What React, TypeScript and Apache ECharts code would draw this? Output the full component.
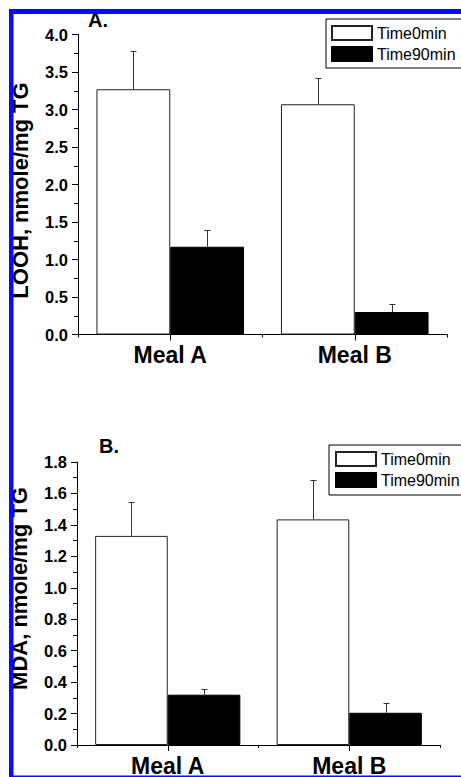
import React, { useEffect, useRef } from 'react';
import * as echarts from 'echarts';

const categories = ['Meal A', 'Meal B'];
const legendNames = ['Time0min', 'Time90min'];

// Panel A: LOOH, nmole/mg TG
const loohTime0 = [3.27, 3.07];
const loohTime0Err = [0.51, 0.35];
const loohTime90 = [1.17, 0.30];
const loohTime90Err = [0.22, 0.11];

// Panel B: MDA, nmole/mg TG
const mdaTime0 = [1.33, 1.435];
const mdaTime0Err = [0.215, 0.25];
const mdaTime90 = [0.32, 0.205];
const mdaTime90Err = [0.035, 0.065];

const loohAxisRange = [0, 4, 0.5]; // min, max, interval
const mdaAxisRange = [0, 1.8, 0.2];

const panelTitles = ['A.', 'B.'];
const yTitles = ['LOOH, nmole/mg TG', 'MDA, nmole/mg TG'];

const FONT = '"Liberation Sans", Arial, Helvetica, sans-serif';

const errRender = (offset: number) => (params: any, api: any) => {
  const x = api.value(0);
  const v = api.value(1);
  const e = api.value(2);
  const base = api.coord([x, v]);
  const top = api.coord([x, v + e]);
  const band = api.size([1, 0])[0];
  const cx = Math.round(base[0] + offset * band) + 0.5;
  const ty = Math.round(top[1]) + 0.5;
  const style = { stroke: '#333', lineWidth: 1 };
  return {
    type: 'group',
    children: [
      { type: 'line', shape: { x1: cx, y1: base[1], x2: cx, y2: ty }, style },
      { type: 'line', shape: { x1: cx - 3, y1: ty, x2: cx + 3, y2: ty }, style },
    ],
  };
};

const errData = (vals: number[], errs: number[]) => vals.map((v, i) => [i, v, errs[i]]);

export default function App() {
  const ref = useRef<HTMLDivElement>(null);
  useEffect(() => {
    if (!ref.current) return;
    const chart = echarts.init(ref.current, null, { renderer: 'svg' });

    const xMain = (gridIndex: number) => ({
      type: 'category',
      gridIndex,
      data: categories,
      position: 'bottom',
      axisLine: { show: true, lineStyle: { color: '#000', width: 1 } },
      axisTick: { show: true, alignWithLabel: true, length: 6, lineStyle: { color: '#000' } },
      axisLabel: { show: true, margin: 9, fontSize: 23, fontWeight: 'bold', color: '#000', fontFamily: FONT },
      splitLine: { show: false },
    });
    const xMinor = (gridIndex: number) => ({
      type: 'category',
      gridIndex,
      data: categories,
      position: 'bottom',
      axisLine: { show: false },
      axisTick: { show: true, length: 3, lineStyle: { color: '#000' } },
      axisLabel: { show: false },
      splitLine: { show: false },
    });
    const yAxis = (gridIndex: number, range: number[], name: string, namePad: number[]) => ({
      type: 'value',
      gridIndex,
      min: range[0],
      max: range[1],
      interval: range[2],
      name,
      nameLocation: 'middle',
      nameGap: 47,
      nameRotate: 90,
      nameTextStyle: { fontSize: 22, fontWeight: 'bold', color: '#000', fontFamily: FONT, padding: namePad },
      axisLine: { show: true, lineStyle: { color: '#000', width: 1 } },
      axisTick: { show: true, length: 6, lineStyle: { color: '#000' } },
      minorTick: { show: true, splitNumber: 2, length: 4, lineStyle: { color: '#000' } },
      axisLabel: {
        margin: 10,
        fontSize: 16.5,
        fontWeight: 'bold',
        color: '#000',
        fontFamily: FONT,
        formatter: (v: number) => v.toFixed(1),
      },
      splitLine: { show: false },
    });

    const barBase = { type: 'bar', barGap: '0%', barCategoryGap: '20%' };
    const whiteStyle = { color: '#fff', borderColor: '#222', borderWidth: 1 };
    const blackStyle = { color: '#000', borderColor: '#000', borderWidth: 1 };

    const legendBase = {
      orient: 'vertical',
      align: 'left',
      itemWidth: 40,
      itemHeight: 14,
      itemGap: 5,
      borderColor: '#000',
      borderWidth: 1,
      selectedMode: false,
      icon: 'rect',
      data: legendNames,
      textStyle: { fontSize: 16, color: '#000', fontFamily: FONT },
    };

    chart.setOption({
      animation: false,
      backgroundColor: '#fff',
      title: [
        { text: panelTitles[0], left: 88, top: 10, padding: 0, textStyle: { fontSize: 20, fontWeight: 'bold', color: '#000', fontFamily: FONT } },
        { text: panelTitles[1], left: 99, top: 436, padding: 0, textStyle: { fontSize: 20, fontWeight: 'bold', color: '#000', fontFamily: FONT } },
      ],
      legend: [
        { ...legendBase, left: 326, top: 19, padding: [6, 30, 6, 5] },
        { ...legendBase, left: 329, top: 445, padding: [6, 30, 7, 6] },
      ],
      grid: [
        { left: 78, top: 34.5, width: 369, height: 300 },
        { left: 77, top: 462, width: 363, height: 292 },
      ],
      xAxis: [xMain(0), xMinor(0), xMain(1), xMinor(1)],
      yAxis: [
        yAxis(0, loohAxisRange, yTitles[0], [0, 12, 0, 0]),
        yAxis(1, mdaAxisRange, yTitles[1], [0, 0, 0, 30]),
      ],
      series: [
        { ...barBase, name: legendNames[0], xAxisIndex: 0, yAxisIndex: 0, data: loohTime0, itemStyle: whiteStyle },
        { ...barBase, name: legendNames[1], xAxisIndex: 0, yAxisIndex: 0, data: loohTime90, itemStyle: blackStyle },
        { type: 'custom', name: 'errA0', xAxisIndex: 0, yAxisIndex: 0, z: 5, renderItem: errRender(-0.2), data: errData(loohTime0, loohTime0Err), encode: { x: 0, y: 1 } },
        { type: 'custom', name: 'errA90', xAxisIndex: 0, yAxisIndex: 0, z: 5, renderItem: errRender(0.2), data: errData(loohTime90, loohTime90Err), encode: { x: 0, y: 1 } },
        { ...barBase, name: legendNames[0], xAxisIndex: 2, yAxisIndex: 1, data: mdaTime0, itemStyle: whiteStyle },
        { ...barBase, name: legendNames[1], xAxisIndex: 2, yAxisIndex: 1, data: mdaTime90, itemStyle: blackStyle },
        { type: 'custom', name: 'errB0', xAxisIndex: 2, yAxisIndex: 1, z: 5, renderItem: errRender(-0.2), data: errData(mdaTime0, mdaTime0Err), encode: { x: 0, y: 1 } },
        { type: 'custom', name: 'errB90', xAxisIndex: 2, yAxisIndex: 1, z: 5, renderItem: errRender(0.2), data: errData(mdaTime90, mdaTime90Err), encode: { x: 0, y: 1 } },
      ],
      graphic: [
        { type: 'rect', z: 100, shape: { x: 9, y: 9, width: 4.5, height: 768 }, style: { fill: '#0a0aff' } },
        { type: 'rect', z: 100, shape: { x: 9, y: 9, width: 452, height: 5 }, style: { fill: '#0a0aff' } },
        { type: 'rect', z: 100, shape: { x: 9, y: 775.5, width: 452, height: 1.5 }, style: { fill: '#0a0aff' } },
      ],
    });
    return () => chart.dispose();
  }, []);
  return <div ref={ref} style={{ position: 'absolute', left: 0, top: 0, width: 461, height: 777 }} />;
}
